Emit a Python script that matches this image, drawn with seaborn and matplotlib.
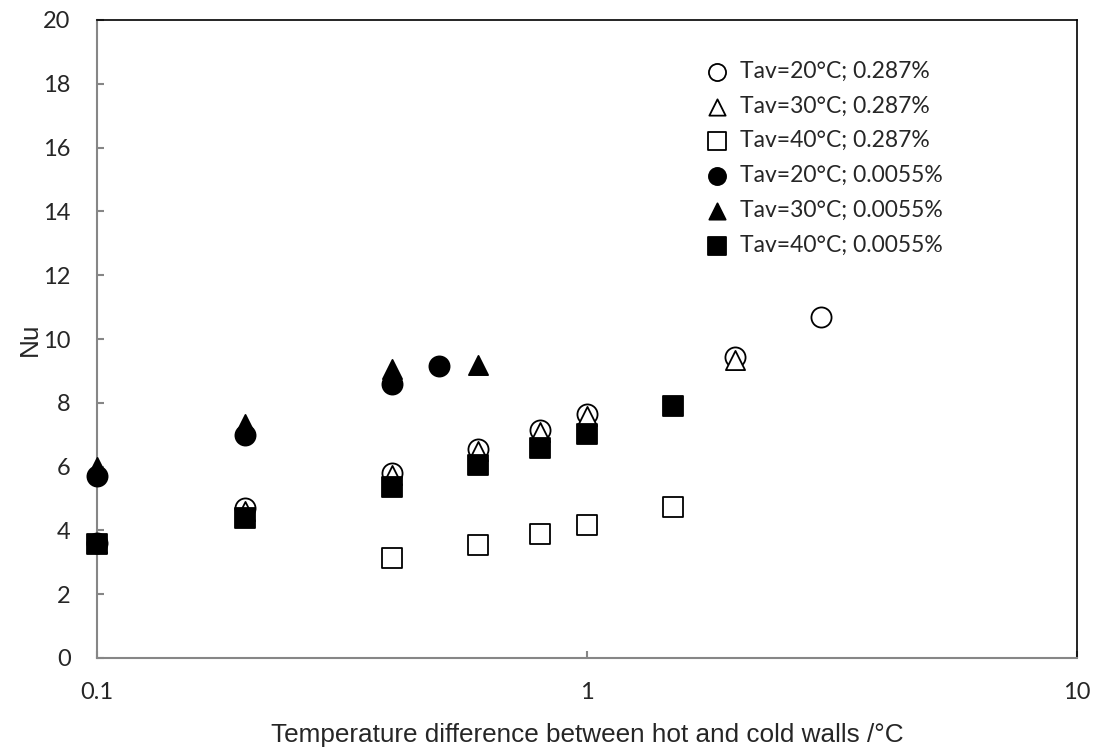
import matplotlib
matplotlib.use("Agg")
import matplotlib.pyplot as plt
import seaborn as sns
import pandas as pd

# Nu vs temperature difference
dt_20_high = [0.1, 0.2, 0.4, 0.6, 0.8, 1.0, 2.0, 3.0]
nu_20_high = [3.6, 4.7, 5.8, 6.55, 7.15, 7.65, 9.45, 10.7]

dt_30_high = [0.1, 0.2, 0.4, 0.6, 0.8, 1.0, 2.0]
nu_30_high = [3.6, 4.6, 5.75, 6.5, 7.1, 7.6, 9.35]

dt_40_high = [0.4, 0.6, 0.8, 1.0, 1.5]
nu_40_high = [3.12, 3.54, 3.89, 4.17, 4.73]

dt_20_low = [0.1, 0.2, 0.4, 0.5]
nu_20_low = [5.7, 7.0, 8.6, 9.15]

dt_30_low = [0.1, 0.2, 0.4, 0.6]
nu_30_low = [6.0, 7.35, 9.05, 9.2]

dt_40_low = [0.1, 0.2, 0.4, 0.6, 0.8, 1.0, 1.5]
nu_40_low = [3.57, 4.38, 5.36, 6.05, 6.57, 7.02, 7.9]

labels = ["Tav=20°C; 0.287%", "Tav=30°C; 0.287%", "Tav=40°C; 0.287%",
          "Tav=20°C; 0.0055%", "Tav=30°C; 0.0055%", "Tav=40°C; 0.0055%"]

series = [
    (dt_20_high, nu_20_high, "o", "white"),
    (dt_30_high, nu_30_high, "^", "white"),
    (dt_40_high, nu_40_high, "s", "white"),
    (dt_20_low, nu_20_low, "o", "black"),
    (dt_30_low, nu_30_low, "^", "black"),
    (dt_40_low, nu_40_low, "s", "black"),
]

sns.set_style("white")
plt.rcParams["font.family"] = ["Liberation Sans", "DejaVu Sans"]

fig = plt.figure(figsize=(10.98, 7.51), dpi=100)
ax = fig.add_axes([97 / 1098, 1 - 658 / 751, 980 / 1098, 638 / 751])

for i, (x, y, m, fc) in enumerate(series):
    df = pd.DataFrame({"dt": x, "nu": y})
    sns.scatterplot(data=df, x="dt", y="nu", marker=m, s=210 if m != "^" else 190,
                    facecolor=fc, edgecolor="black", linewidth=1.3,
                    label=labels[i], ax=ax, zorder=3 + i, clip_on=False)

ax.set_xscale("log")
ax.set_xlim(0.1, 10)
ax.set_ylim(0, 20)
ax.set_yticks(range(0, 21, 2))
ax.set_xticks([0.1, 1, 10])
ax.set_xticklabels(["0.1", "1", "10"])
ax.minorticks_off()

tick_font = ["Lato", "DejaVu Sans"]
for t in ax.get_xticklabels() + ax.get_yticklabels():
    t.set_fontfamily(tick_font)
    t.set_fontsize(17)

ax.tick_params(axis="both", direction="in", length=5, width=1.5, color="#868686",
               bottom=True, left=True)
ax.tick_params(axis="x", pad=17.5)
ax.tick_params(axis="y", pad=19)

for side in ["left", "bottom"]:
    ax.spines[side].set_color("#868686")
    ax.spines[side].set_linewidth(1.5)
for side in ["top", "right"]:
    ax.spines[side].set_color("black")
    ax.spines[side].set_linewidth(1.2)

ax.set_xlabel("Temperature difference between hot and cold walls /°C", fontsize=18.8, labelpad=14)
ax.set_ylabel("Nu", fontsize=18.8, labelpad=1)

leg = ax.legend(loc="upper left", bbox_to_anchor=(0.621, 0.936), frameon=False,
                prop={"family": tick_font, "size": 16.5}, handletextpad=0.5,
                labelspacing=0.6, markerscale=0.85, borderaxespad=0, borderpad=0,
                handlelength=1.0)

fig.savefig("out.png", dpi=100)
